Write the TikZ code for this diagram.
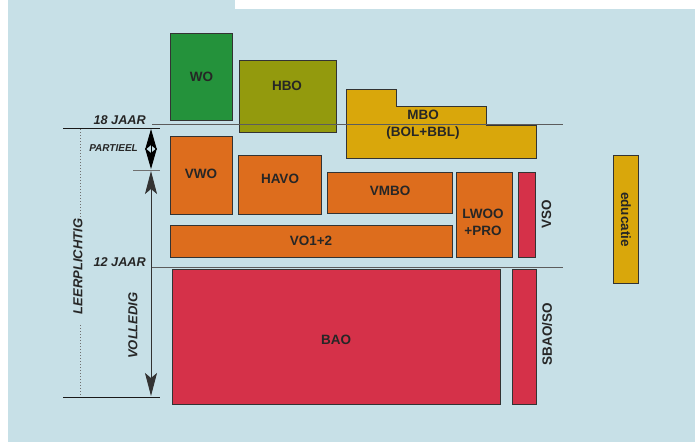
\documentclass[tikz,border=0pt]{standalone}
\usepackage{fontspec}
\setmainfont{Liberation Sans}
\usetikzlibrary{arrows.meta}
\definecolor{bgc}{HTML}{C7E0E7}
\definecolor{wogreen}{HTML}{24923B}
\definecolor{hboolive}{HTML}{939A0D}
\definecolor{mboyel}{HTML}{D9A70B}
\definecolor{voor}{HTML}{DD6D1D}
\definecolor{bared}{HTML}{D53149}
\definecolor{edge}{HTML}{333333}
\definecolor{txt}{HTML}{262626}
\begin{document}
\begin{tikzpicture}[x=1pt,y=-1pt,
  box/.style={draw=edge, line width=1pt, inner sep=0pt, anchor=north west},
  boxlbl/.style={font=\bfseries\fontsize{13.5}{16.7}\selectfont, text=txt, align=center, inner sep=0pt},
  agelbl/.style={font=\bfseries\itshape\fontsize{12.7}{14}\selectfont, text=txt, inner sep=0pt},
  sidelbl/.style={font=\bfseries\fontsize{13.5}{16}\selectfont, text=txt, inner sep=0pt},
  thinln/.style={draw=edge!80, line width=0.8pt},
  blackln/.style={draw=black!90, line width=1pt},
  tip/.style={-{Stealth[length=21pt,width=12pt,inset=5pt]}}
]
\useasboundingbox (0,0) rectangle (695,442);
\fill[white] (0,0) rectangle (695,442);
\fill[bgc] (8,0) rectangle (695,442);
\fill[white] (235,0) rectangle (695,9);

% higher education
\node[box, fill=wogreen, minimum width=62pt, minimum height=87pt] (wo) at (170,33) {};
\node[boxlbl] at (wo.center) {WO};
\node[box, fill=hboolive, minimum width=97pt, minimum height=72pt] (hbo) at (239,60) {};
\node[boxlbl] at (287,86) {HBO};
\draw[draw=edge, line width=1pt, fill=mboyel] (346,89) -- (396,89) -- (396,106) -- (486,106) -- (486,125) -- (536,125) -- (536,158) -- (346,158) -- cycle;
\node[boxlbl] (mbo) at (423,124.5) {MBO\\(BOL+BBL)};

% secondary
\node[box, fill=voor, minimum width=62pt, minimum height=78pt] (vwo) at (170,136) {};
\node[boxlbl] at (201,174) {VWO};
\node[box, fill=voor, minimum width=83pt, minimum height=59pt] (havo) at (238,155) {};
\node[boxlbl] at (280,179) {HAVO};
\node[box, fill=voor, minimum width=125pt, minimum height=41pt] (vmbo) at (327,172) {};
\node[boxlbl] at (390,191) {VMBO};
\node[box, fill=voor, minimum width=56pt, minimum height=85pt] (lwoo) at (456,172) {};
\node[boxlbl] at (483,222.5) {LWOO\\+PRO};
\node[box, fill=bared, minimum width=17pt, minimum height=85pt] (vso) at (518,172) {};
\node[sidelbl, rotate=90] at (546.5,214) {VSO};
\node[box, fill=voor, minimum width=282pt, minimum height=32pt] (vo) at (170,225) {};
\node[boxlbl] at (311,241) {VO1+2};

% primary
\node[box, fill=bared, minimum width=328pt, minimum height=135pt] (bao) at (172,269) {};
\node[boxlbl] at (336,340) {BAO};
\node[box, fill=bared, minimum width=24pt, minimum height=135pt] (sbao) at (512,269) {};
\node[sidelbl, rotate=90] at (547,334) {SBAO/SO};

% educatie
\node[box, fill=mboyel, minimum width=25pt, minimum height=128pt] (edu) at (613,155) {};
\node[sidelbl, rotate=-90] at (626,219.5) {educatie};

% age lines
\coordinate (l18a) at (152,124);
\coordinate (l18b) at (563,124);
\coordinate (l12a) at (152,267);
\coordinate (l12b) at (563,267);
\draw[thinln] (l18a) -- (l18b);
\draw[thinln] (l12a) -- (l12b);
\node[agelbl, anchor=east] (j18) at (146,120) {18 JAAR};
\node[agelbl, anchor=east] (j12) at (146,262) {12 JAAR};

\coordinate (topL) at (63,128);
\coordinate (topR) at (160,128);
\coordinate (botL) at (63,397);
\coordinate (botR) at (160,397);
\draw[blackln] (topL) -- (topR);
\draw[blackln] (botL) -- (botR);
\coordinate (tickL) at (133,170);
\coordinate (tickR) at (160,170);
\draw[draw=edge!70, line width=1pt] (tickL) -- (tickR);

% arrows
\coordinate (pa) at (151,129);
\coordinate (pm) at (151,149);
\coordinate (pb) at (151,169);
\draw[line width=1pt, tip] (pm) -- (pa);
\draw[line width=1pt, tip] (pm) -- (pb);
\coordinate (va) at (151,171);
\coordinate (vb) at (151,396);
\draw[draw=edge, line width=1pt, {Stealth[length=23pt,width=12pt,inset=5pt]}-{Stealth[length=23pt,width=12pt,inset=5pt]}] (va) -- (vb);
\node[font=\bfseries\itshape\fontsize{10}{11}\selectfont, text=txt, inner sep=0pt, anchor=east] (part) at (138,148) {PARTIEEL};
\node[agelbl, font=\bfseries\itshape\fontsize{13}{14}\selectfont, rotate=90] (voll) at (133,325.5) {VOLLEDIG};

% leerplicht
\coordinate (d1) at (80,129);
\coordinate (d2) at (80,217);
\coordinate (d3) at (80,325);
\coordinate (d4) at (80,396);
\draw[draw=edge!70, line width=1pt, dotted] (d1) -- (d2);
\draw[draw=edge!70, line width=1pt, dotted] (d3) -- (d4);
\node[agelbl, font=\bfseries\itshape\fontsize{13}{14}\selectfont, rotate=90] (leer) at (78,266.5) {LEERPLICHTIG};
\end{tikzpicture}
\end{document}
